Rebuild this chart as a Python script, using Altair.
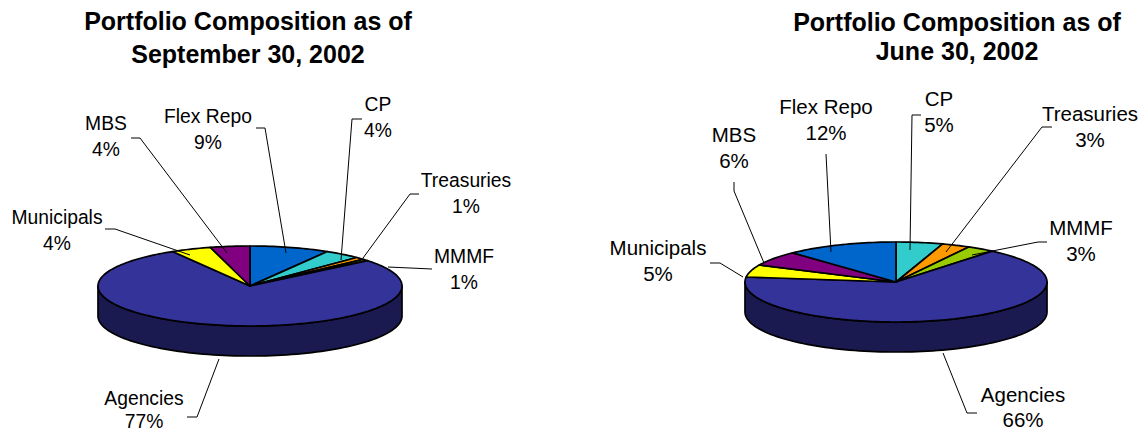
import math
import altair as alt
import pandas as pd

SEP_ORDER = ["Flex Repo", "CP", "Treasuries", "MMMF", "Agencies", "Municipals", "MBS"]
SEP_SHARES = [8.5, 3.9, 1.0, 0.7, 77.4, 4.3, 4.2]
SEP_LABELS = ["9%", "4%", "1%", "1%", "77%", "4%", "4%"]
JUN_ORDER = ["CP", "Treasuries", "MMMF", "Agencies", "Municipals", "MBS", "Flex Repo"]
JUN_SHARES = [5, 3, 3, 66, 5, 6, 12]
JUN_LABELS = ["5%", "3%", "3%", "66%", "5%", "6%", "12%"]
COLORS = {"Flex Repo": "#0066CC", "CP": "#33CCCC", "Treasuries": "#FF9900", "MMMF": "#99CC00",
          "Agencies": "#333399", "Municipals": "#FFFF00", "MBS": "#800080"}
WALL = "#1A1A50"
W, H = 1130, 424

panels = [
    dict(cx=250, cy=286, rx=152, ry=40, depth=30, order=SEP_ORDER, shares=SEP_SHARES,
         labels=SEP_LABELS, key="sep", font=19.3, gap={"Agencies": 23.5},
         title=[("Portfolio Composition as of", 248, 22), ("September 30, 2002", 248, 55)],
         text={"Flex Repo": (208, 117), "CP": (378, 105), "Treasuries": (466, 181), "MMMF": (464, 257),
               "Agencies": (144, 398.5), "Municipals": (57, 218), "MBS": (106, 124)},
         leaders={"Flex Repo": [(256, 128), (265, 128), (286, 253)],
                  "CP": ((362, 119), (352, 119), (341, 260)),
                  "Treasuries": ((419, 194), (410, 194), (363, 258)),
                  "MMMF": ((432, 269), (388, 267)),
                  "Agencies": ((187, 417), (197, 417), (219, 359)),
                  "Municipals": ((105, 229), (115, 229), (190, 255)),
                  "MBS": ((131, 138), (140, 138), (227, 253))}),
    dict(cx=896, cy=282, rx=151, ry=40, depth=30, order=JUN_ORDER, shares=JUN_SHARES,
         labels=JUN_LABELS, key="jun", font=20.5, gap={"Agencies": 25},
         title=[("Portfolio Composition as of", 957, 23), ("June 30, 2002", 957, 52)],
         text={"Flex Repo": (826, 108), "CP": (939, 100), "Treasuries": (1090, 115), "MMMF": (1081, 229),
               "Agencies": (1023, 396), "Municipals": (658, 249), "MBS": (734, 136)},
         leaders={"Flex Repo": ((826, 154), (831, 252)),
                  "CP": ((921, 115), (912, 115), (910, 250)),
                  "Treasuries": ((1052, 127), (1042, 127), (946, 252)),
                  "MMMF": ((1047, 242), (1038, 242), (972, 255)),
                  "Agencies": ((977, 413), (967, 413), (943, 353)),
                  "Municipals": ((710, 263), (720, 263), (743, 277)),
                  "MBS": ((734, 182), (734, 191), (764, 263))}),
]

polys, lines, texts, titles = [], [], [], []
for p in panels:
    cx, cy, rx, ry, d = p["cx"], p["cy"], p["rx"], p["ry"], p["depth"]
    pt = lambda deg, dy=0: (cx + rx * math.sin(math.radians(deg)), cy - ry * math.cos(math.radians(deg)) + dy)
    wall = [pt(a) for a in range(90, 271, 2)] + [pt(a, d) for a in range(270, 89, -2)]
    for i, (x, y) in enumerate(wall):
        polys.append(dict(id=p["key"] + "-wall", seq=i, x=x, y=y, fill=WALL))
    acc = 0
    for k, (name, share) in enumerate(zip(p["order"], p["shares"])):
        a0, a1 = acc * 3.6, (acc + share) * 3.6
        acc += share
        n = max(2, int((a1 - a0) / 1.5) + 1)
        ring = [(cx, cy)] + [pt(a0 + (a1 - a0) * j / n) for j in range(n + 1)]
        for i, (x, y) in enumerate(ring):
            polys.append(dict(id=f"{p['key']}-{k}", seq=i, x=x, y=y, fill=COLORS[name]))
    for name, lab in zip(p["order"], p["labels"]):
        tx, ty = p["text"][name]
        gap = p["gap"].get(name, 25.5)
        texts.append(dict(x=tx, y=ty, t=name, s=p["font"]))
        texts.append(dict(x=tx, y=ty + gap, t=lab, s=p["font"]))
        for i, (x, y) in enumerate(p["leaders"][name]):
            lines.append(dict(id=p["key"] + name, seq=i, x=x, y=y))
    for t, x, y in p["title"]:
        titles.append(dict(x=x, y=y, t=t))

X = alt.X("x:Q", scale=alt.Scale(domain=[8, 8 + W]), axis=None)
Y = alt.Y("y:Q", scale=alt.Scale(domain=[8 + H, 8]), axis=None)

poly_df = pd.DataFrame(polys)
layers = []
for pid, g in poly_df.groupby("id", sort=False):
    layers.append(
        alt.Chart(g).mark_line(interpolate="linear-closed", fill=g["fill"].iloc[0], stroke="#000000",
                               strokeWidth=1.7, strokeJoin="round")
        .encode(x=X, y=Y, order="seq:Q")
    )
leader = alt.Chart(pd.DataFrame(lines)).mark_line(stroke="#000000", strokeWidth=1).encode(
    x=X, y=Y, detail="id:N", order="seq:Q")
tdf = pd.DataFrame(texts)
text_layers = [
    alt.Chart(g).mark_text(font="Liberation Sans", fontSize=float(s), color="#000000",
                           align="center", baseline="middle").encode(x=X, y=Y, text="t:N")
    for s, g in tdf.groupby("s")
]
title = alt.Chart(pd.DataFrame(titles)).mark_text(font="Liberation Sans", fontSize=25, fontWeight="bold",
                                                  color="#000000", align="center", baseline="middle").encode(x=X, y=Y, text="t:N")

chart = alt.layer(*layers, leader, *text_layers, title).properties(
    width=W, height=H, padding=0, autosize=alt.AutoSizeParams(type="none"),
).configure_view(stroke=None)
chart.save("out.html", embed_options={"renderer": "svg", "actions": False})
